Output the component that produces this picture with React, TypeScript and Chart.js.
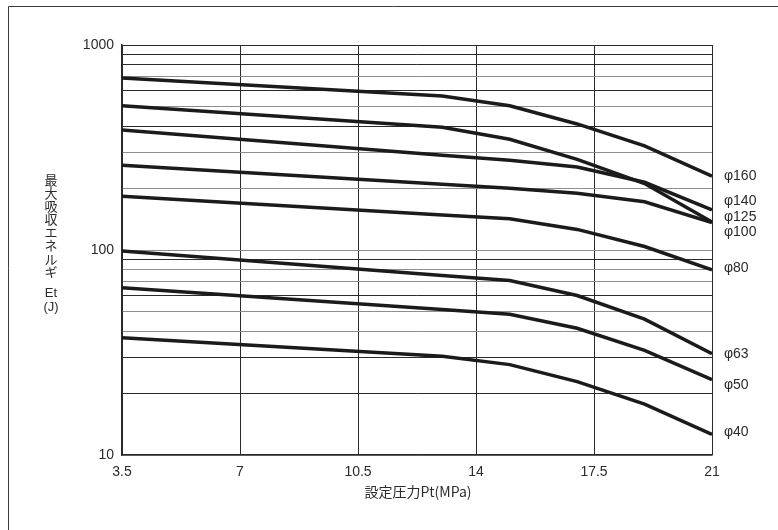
import React, { useEffect, useRef } from "react";
import { Chart, registerables } from "chart.js";

Chart.register(...registerables);

// Pressure (MPa) breakpoints
const pressure = [3.5, 13, 15, 17, 19, 21];

// Max absorbed energy Et (J) per bore size
const phi160 = [690, 564, 505, 412, 322, 229];
const phi140 = [505, 397, 347, 277, 211, 137];
const phi125 = [385, 290, 274, 254, 214, 157];
const phi100 = [259, 209, 200, 189, 172, 136];
const phi80 = [183, 148, 142, 126, 104, 80];
const phi63 = [99, 75, 71, 60, 46, 31.2];
const phi50 = [65.4, 51.2, 48.6, 41.5, 32.4, 23.3];
const phi40 = [37.3, 30.3, 27.6, 22.8, 17.7, 12.6];

const seriesNames = ["φ160", "φ140", "φ125", "φ100", "φ80", "φ63", "φ50", "φ40"];
const seriesValues = [phi160, phi140, phi125, phi100, phi80, phi63, phi50, phi40];
// value (J) at which each right-hand label sits
const labelValues = [229, 174, 144, 122, 82, 31, 22, 12.9];

const xTicks = [3.5, 7, 10.5, 14, 17.5, 21];
const yTicks = [10, 20, 30, 40, 50, 60, 70, 80, 90, 100, 200, 300, 400, 500, 600, 700, 800, 900, 1000];
const yLabelTicks = [10, 100, 1000];
const darkGrid = [20, 30, 60, 90, 400, 600, 800, 900, 1000];

const yTitleChars = ["最", "大", "吸", "収", "エ", "ネ", "ル", "ギ"];
const yTitleUnit = ["Et", "(J)"];
const xTitle = "設定圧力Pt(MPa)";

const LATIN = "'Liberation Sans', Arial, 'Noto Sans CJK JP', sans-serif";
const CJK = "'Noto Sans CJK JP', 'Liberation Sans', sans-serif";

const decorPlugin = {
  id: "decor",
  afterDraw(chart: any) {
    const ctx = chart.ctx as CanvasRenderingContext2D;
    const y = chart.scales.y;
    const area = chart.chartArea;
    ctx.save();
    // outer frame (left and top edges visible)
    ctx.strokeStyle = "#3a3a3a";
    ctx.lineWidth = 1;
    ctx.beginPath();
    ctx.moveTo(8.5, 530);
    ctx.lineTo(8.5, 6.5);
    ctx.lineTo(778, 6.5);
    ctx.stroke();

    // series labels
    ctx.fillStyle = "#2b2b2b";
    ctx.font = `14px ${LATIN}`;
    ctx.textAlign = "left";
    ctx.textBaseline = "middle";
    seriesNames.forEach((n, i) => {
      ctx.fillText(n, area.right + 12, y.getPixelForValue(labelValues[i]));
    });

    // y title (stacked)
    ctx.textAlign = "center";
    ctx.font = `13px ${CJK}`;
    yTitleChars.forEach((c, i) => {
      ctx.fillText(c, 51, 180 + i * 13.1);
    });
    ctx.font = `13px ${LATIN}`;
    ctx.fillText(yTitleUnit[0], 51, 293);
    ctx.fillText(yTitleUnit[1], 51, 307);

    // x title
    ctx.font = `14px ${CJK}`;
    ctx.fillText(xTitle, (area.left + area.right) / 2 + 1, 492);
    ctx.restore();
  },
};

export default function App() {
  const ref = useRef<HTMLCanvasElement>(null);

  useEffect(() => {
    if (!ref.current) return;
    const datasets = seriesValues.map((vals, i) => ({
      label: seriesNames[i],
      data: pressure.map((p, j) => ({ x: p, y: vals[j] })),
      borderColor: "#1b1b1b",
      borderWidth: 3.5,
      pointRadius: 0,
      tension: 0,
      fill: false,
    }));
    const chart = new Chart(ref.current, {
      type: "line",
      data: { datasets },
      options: {
        responsive: false,
        animation: false,
        layout: { padding: { top: 45, right: 66, bottom: 0, left: 0 } },
        plugins: { legend: { display: false }, tooltip: { enabled: false } },
        scales: {
          x: {
            type: "linear",
            min: 3.5,
            max: 21,
            afterBuildTicks: (s: any) => {
              s.ticks = xTicks.map((v) => ({ value: v }));
            },
            afterFit: (s: any) => {
              s.height = 75;
            },
            ticks: {
              color: "#2b2b2b",
              font: { size: 14, family: LATIN },
              padding: 9,
              autoSkip: false,
              maxRotation: 0,
              callback: (v: any) => String(v),
            },
            grid: { color: "#2a2a2a", lineWidth: 1, drawTicks: false },
            border: { color: "#2a2a2a", width: 1.5 },
          },
          y: {
            type: "logarithmic",
            min: 10,
            max: 1000,
            afterBuildTicks: (s: any) => {
              s.ticks = yTicks.map((v) => ({ value: v }));
            },
            afterFit: (s: any) => {
              s.width = 122;
            },
            ticks: {
              color: "#2b2b2b",
              font: { size: 14, family: LATIN },
              padding: 8,
              autoSkip: false,
              callback: (v: any) => (yLabelTicks.includes(Number(v)) ? String(v) : ""),
            },
            grid: {
              drawTicks: false,
              lineWidth: 1,
              color: (c: any) => (darkGrid.includes(c.tick?.value) ? "#2a2a2a" : "#8e8e8e"),
            },
            border: { color: "#2a2a2a", width: 1.5 },
          },
        },
      },
      plugins: [decorPlugin],
    });
    return () => chart.destroy();
  }, []);

  return (
    <div style={{ position: "fixed", left: 0, top: 0, width: 778, height: 530, background: "#fff" }}>
      <canvas ref={ref} width={778} height={530} style={{ display: "block", width: 778, height: 530 }} />
    </div>
  );
}
